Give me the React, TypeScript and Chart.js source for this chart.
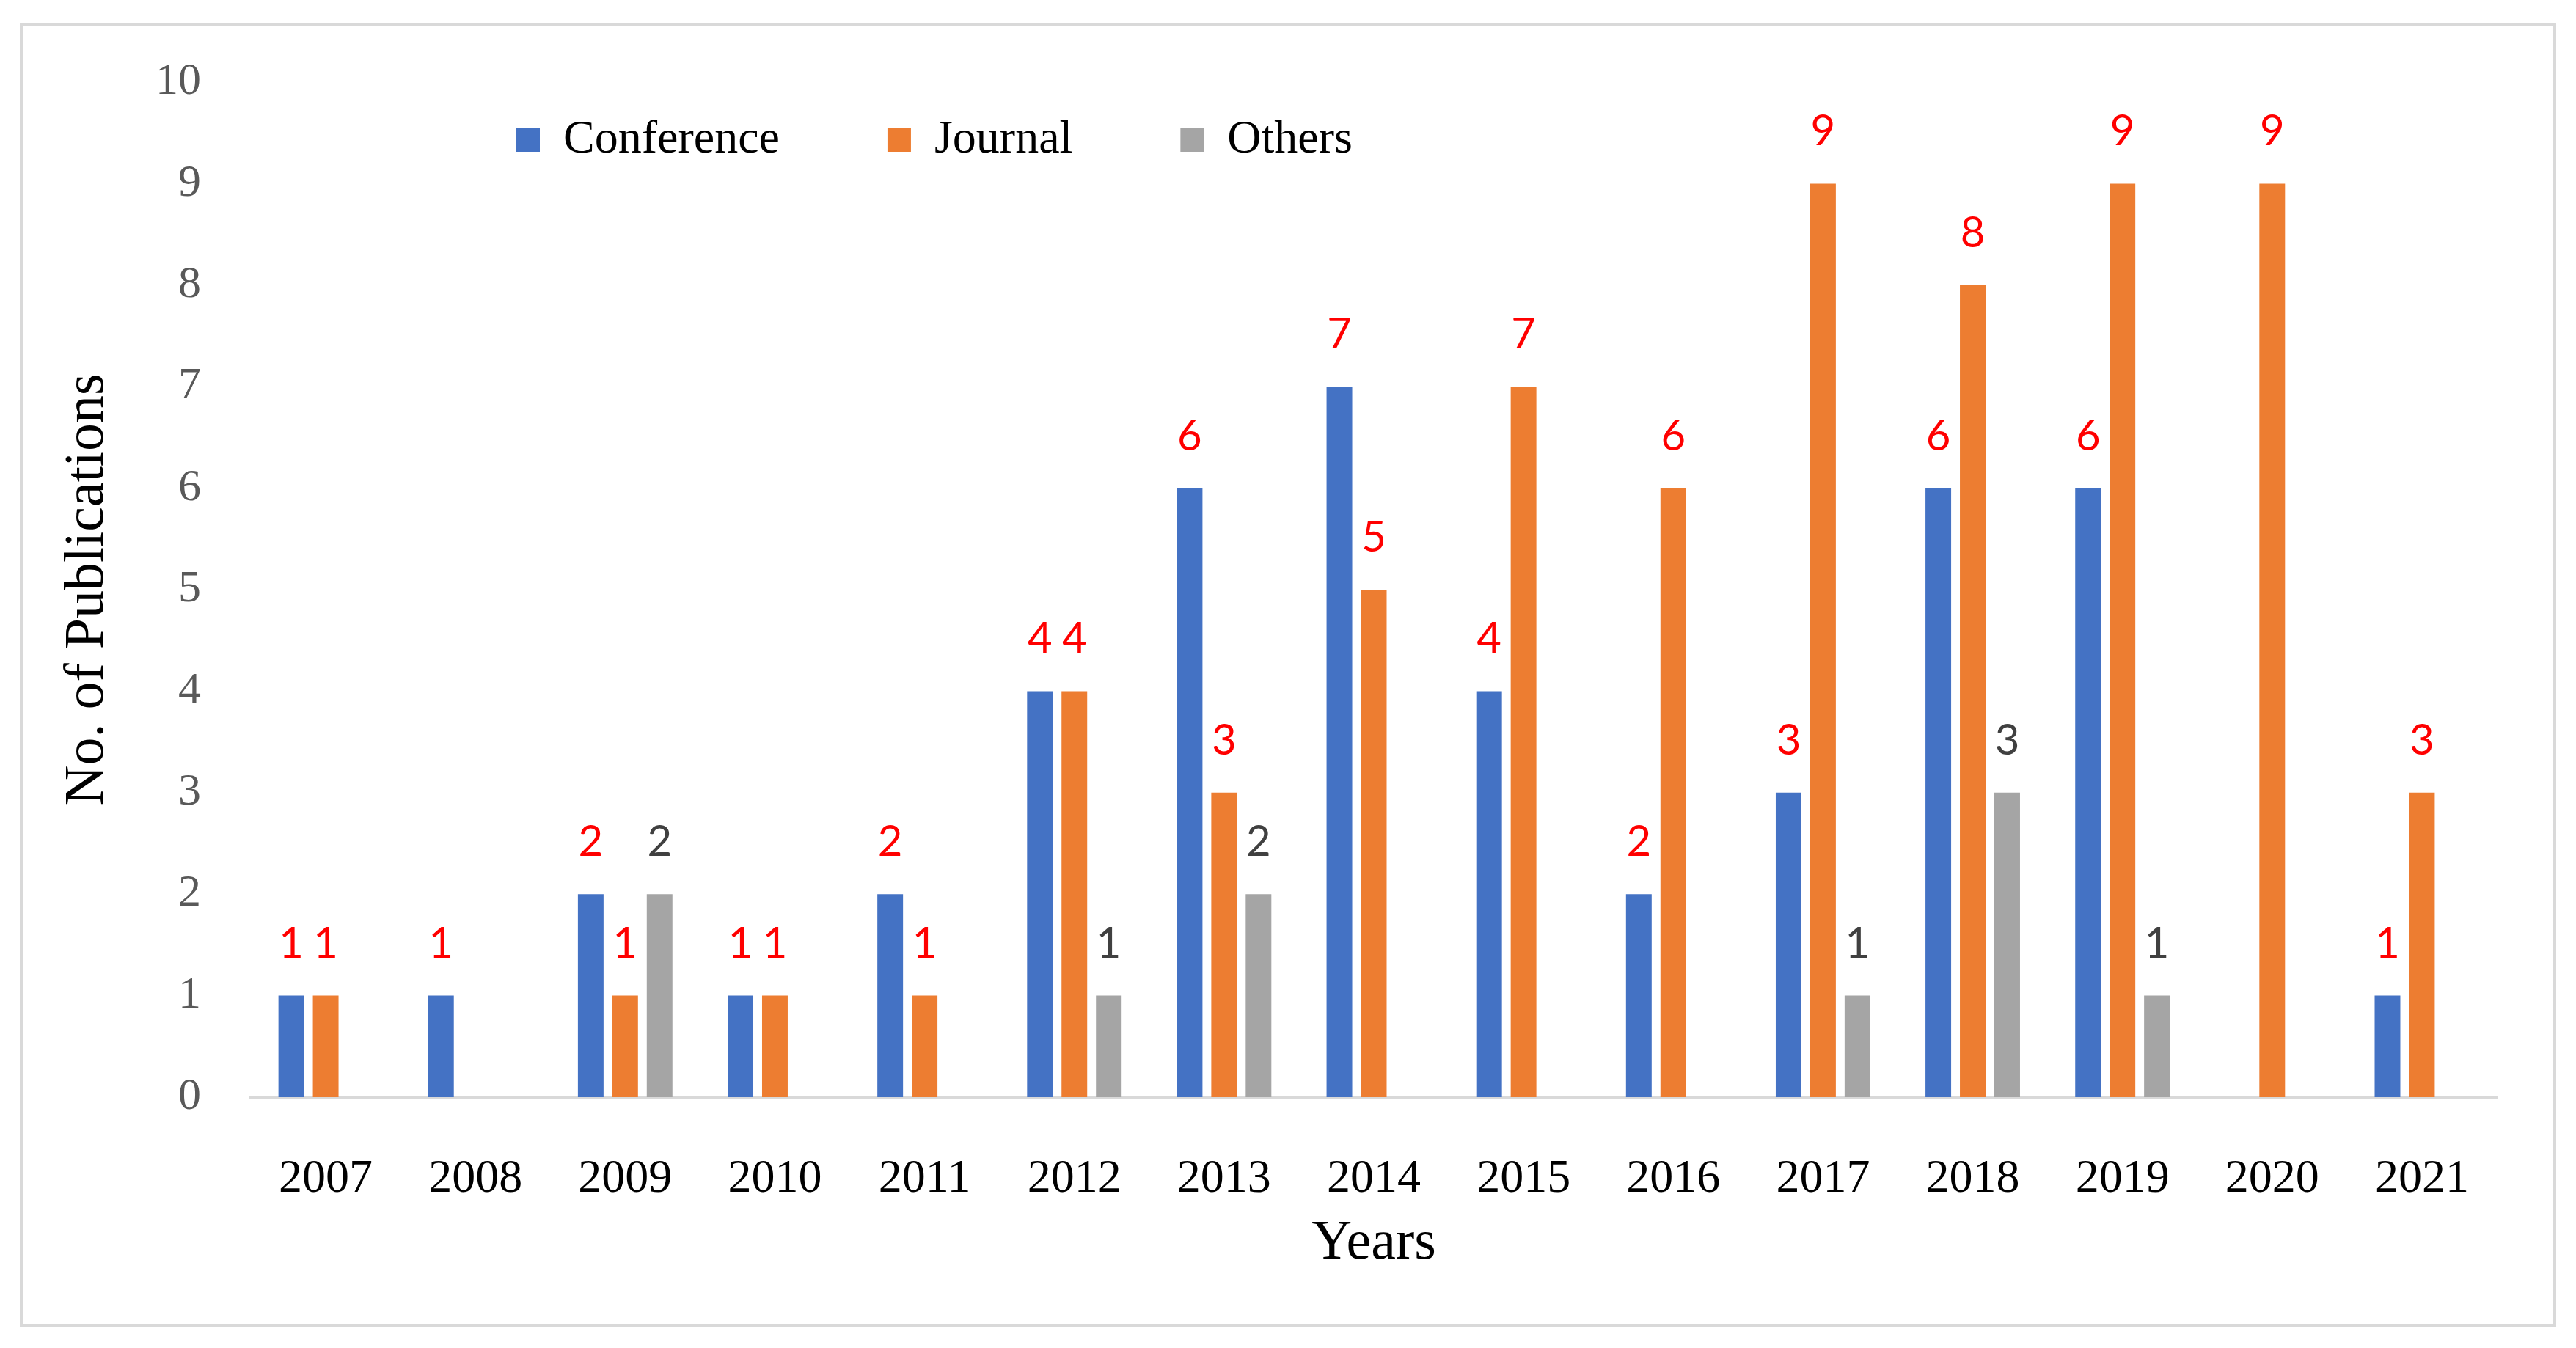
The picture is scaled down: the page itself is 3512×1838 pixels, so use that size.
import React, { useEffect, useRef } from 'react';
import { Chart, registerables } from 'chart.js';

Chart.register(...registerables);

// Publications per year (null = no bar)
const years = ['2007', '2008', '2009', '2010', '2011', '2012', '2013', '2014', '2015', '2016', '2017', '2018', '2019', '2020', '2021'];
const conference = [1, 1, 2, 1, 2, 4, 6, 7, 4, 2, 3, 6, 6, null, 1];
const journal = [1, null, 1, 1, 1, 4, 3, 5, 7, 6, 9, 8, 9, 9, 3];
const others = [null, null, 2, null, null, 1, 2, null, null, null, 1, 3, 1, null, null];

const seriesNames = ['Conference', 'Journal', 'Others'];
const seriesColors = ['#4472C4', '#ED7D31', '#A5A5A5'];
const valueLabelColors = ['#FF0000', '#FF0000', '#404040'];

const SERIF = "'Liberation Serif', 'Times New Roman', serif";
const SANS = "Lato, 'Noto Sans', sans-serif";

// the legend takes no layout room (maxHeight 1); move its box into the plot
const legendInPlot = {
  id: 'legendInPlot',
  beforeDraw(chart: any) {
    const lg = chart.legend;
    if (!lg) return;
    lg.left = 557;
    lg.right = 3400;
    lg.top = 12;
    lg.bottom = 360;
  },
};

// value labels above each bar
const barValueLabels = {
  id: 'barValueLabels',
  afterDatasetsDraw(chart: any) {
    const ctx = chart.ctx;
    ctx.save();
    ctx.font = `58px ${SANS}`;
    ctx.textAlign = 'center';
    ctx.textBaseline = 'alphabetic';
    chart.data.datasets.forEach((ds: any, di: number) => {
      const meta = chart.getDatasetMeta(di);
      ctx.fillStyle = valueLabelColors[di];
      meta.data.forEach((bar: any, i: number) => {
        const v = ds.data[i];
        if (v == null) return;
        ctx.fillText(String(v), bar.x, bar.y - 52);
      });
    });
    ctx.restore();
  },
};

export default function App() {
  const canvasRef = useRef<HTMLCanvasElement>(null);
  const chartRef = useRef<Chart | null>(null);

  useEffect(() => {
    document.body.style.margin = '0';
    if (!canvasRef.current) return;
    if (chartRef.current) chartRef.current.destroy();

    const seriesData = [conference, journal, others];

    chartRef.current = new Chart(canvasRef.current, {
      type: 'bar',
      data: {
        labels: years,
        datasets: seriesNames.map((name, i) => ({
          label: name,
          data: seriesData[i],
          backgroundColor: seriesColors[i],
          borderWidth: 0,
          categoryPercentage: 0.69,
          barPercentage: 0.745,
        })),
      },
      options: {
        animation: false,
        responsive: true,
        maintainAspectRatio: false,
        devicePixelRatio: 1,
        layout: { padding: { left: 0, right: 108, top: 111, bottom: 0 } },
        plugins: {
          legend: {
            position: 'top',
            align: 'start',
            maxHeight: 1,
            labels: {
              boxWidth: 32,
              boxHeight: 32,
              padding: 147,
              color: '#000',
              font: { family: SERIF, size: 64 },
            },
          },
          tooltip: { enabled: false },
        },
        scales: {
          x: {
            grid: { display: false, drawTicks: false },
            border: { display: true, color: '#D9D9D9', width: 4 },
            ticks: { color: '#000', padding: 74, font: { family: SERIF, size: 64 } },
            title: {
              display: true,
              text: 'Years',
              color: '#000',
              padding: { top: 0, bottom: 96 },
              font: { family: SERIF, size: 76 },
            },
            afterFit: (scale: any) => { scale.height = 342; },
          },
          y: {
            min: 0,
            max: 10,
            grid: { display: false, drawTicks: false },
            border: { display: false },
            ticks: { stepSize: 1, color: '#595959', padding: 68, font: { family: SERIF, size: 62 } },
            title: {
              display: true,
              text: 'No. of Publications',
              color: '#000',
              padding: { top: 74, bottom: 0 },
              font: { family: SERIF, size: 76 },
            },
            afterFit: (scale: any) => { scale.width = 342; },
          },
        },
      },
      plugins: [legendInPlot, barValueLabels],
    });

    return () => {
      if (chartRef.current) {
        chartRef.current.destroy();
        chartRef.current = null;
      }
    };
  }, []);

  return (
    <div style={{ position: 'relative', width: '3512px', height: '1838px', background: '#fff' }}>
      <div
        style={{
          position: 'absolute',
          left: '27px',
          top: '31px',
          width: '3458px',
          height: '1779px',
          border: '5px solid #D9D9D9',
          boxSizing: 'border-box',
          pointerEvents: 'none',
        }}
      />
      <div style={{ position: 'absolute', left: 0, top: 0, width: '3512px', height: '1838px' }}>
        <canvas ref={canvasRef} />
      </div>
    </div>
  );
}
